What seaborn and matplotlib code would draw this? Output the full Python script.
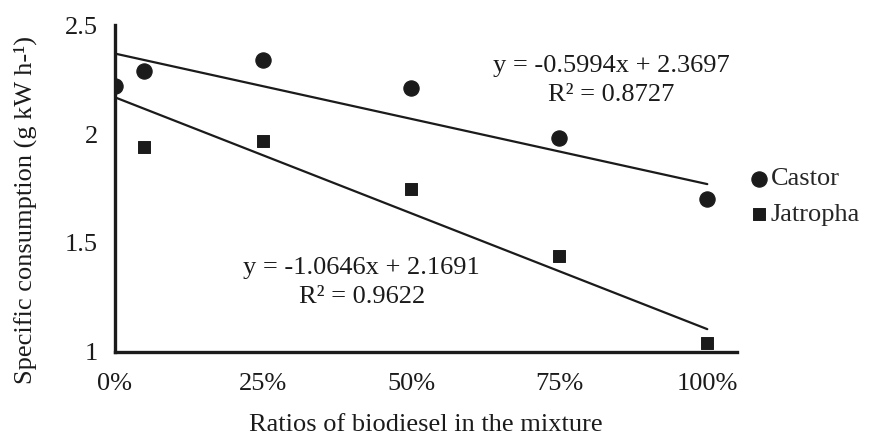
import numpy as np
import pandas as pd
import seaborn as sns
import matplotlib.pyplot as plt

ratios = [0.0, 0.05, 0.25, 0.50, 0.75, 1.00]
castor = [2.22, 2.29, 2.34, 2.21, 1.98, 1.70]
jatropha = [2.22, 1.94, 1.97, 1.75, 1.44, 1.04]
tick_pos = [0.0, 0.25, 0.50, 0.75, 1.00]
tick_labels = ['0%', '25%', '50%', '75%', '100%']

# trend line coefficients as printed on the chart
castor_fit = (-0.5994, 2.3697, 0.8727)
jatropha_fit = (-1.0646, 2.1691, 0.9622)

sns.set_theme(style='white')
plt.rcParams['font.family'] = ['Liberation Serif', 'DejaVu Serif']

df = pd.DataFrame({
    'ratio': ratios * 2,
    'value': castor + jatropha,
    'oil': ['Castor'] * len(castor) + ['Jatropha'] * len(jatropha),
})
# jatropha at 0% is the same diesel point, hidden behind castor
df = df[~((df.oil == 'Jatropha') & (df.ratio == 0.0))]

fig = plt.figure(figsize=(8.69, 4.41), dpi=100)
ax = fig.add_axes([0.132, 0.202, 0.716, 0.741])

c = '#1b1b1b'
sns.scatterplot(data=df[df.oil == 'Castor'], x='ratio', y='value', marker='o',
                s=120, color=c, edgecolor=c, ax=ax, label='Castor', zorder=3)
sns.scatterplot(data=df[df.oil == 'Jatropha'], x='ratio', y='value', marker='s',
                s=75, color=c, edgecolor=c, ax=ax, label='Jatropha', zorder=3)

xs = np.array([0.0, 1.0])
for m, b, r2 in [castor_fit, jatropha_fit]:
    sns.lineplot(x=xs, y=m * xs + b, color=c, lw=1.6, ax=ax, legend=False)

fs = 19
ax.text(0.838, 2.312, 'y = -0.5994x + 2.3697', ha='center', va='center', fontsize=fs, color=c)
ax.text(0.838, 2.18, 'R² = 0.8727', ha='center', va='center', fontsize=fs, color=c)
ax.text(0.417, 1.385, 'y = -1.0646x + 2.1691', ha='center', va='center', fontsize=fs, color=c)
ax.text(0.417, 1.25, 'R² = 0.9622', ha='center', va='center', fontsize=fs, color=c)

ax.set_xlim(0, 1.05)
ax.set_ylim(1, 2.5)
ax.set_xticks(tick_pos)
ax.set_xticklabels(tick_labels)
ax.set_yticks([1, 1.5, 2, 2.5])
ax.set_yticklabels(['1', '1.5', '2', '2.5'])
ax.tick_params(axis='both', length=0, labelsize=fs, colors=c, pad=12)
ax.tick_params(axis='x', pad=15)

for s in ['top', 'right']:
    ax.spines[s].set_visible(False)
for s in ['left', 'bottom']:
    ax.spines[s].set_linewidth(2.4)
    ax.spines[s].set_color(c)

ax.set_xlabel('Ratios of biodiesel in the mixture', fontsize=fs, color=c, labelpad=14)
ax.set_ylabel('Specific consumption (g kW h-¹)', fontsize=fs, color=c)
ax.yaxis.set_label_coords(-0.125, 0.434)

ax.legend(loc='center left', bbox_to_anchor=(1.01, 0.476), frameon=False, fontsize=fs,
          handletextpad=-0.15, labelspacing=0.45, borderaxespad=0, borderpad=0,
          handlelength=1.2, markerscale=1.0)

fig.savefig('out.png', dpi=100)
